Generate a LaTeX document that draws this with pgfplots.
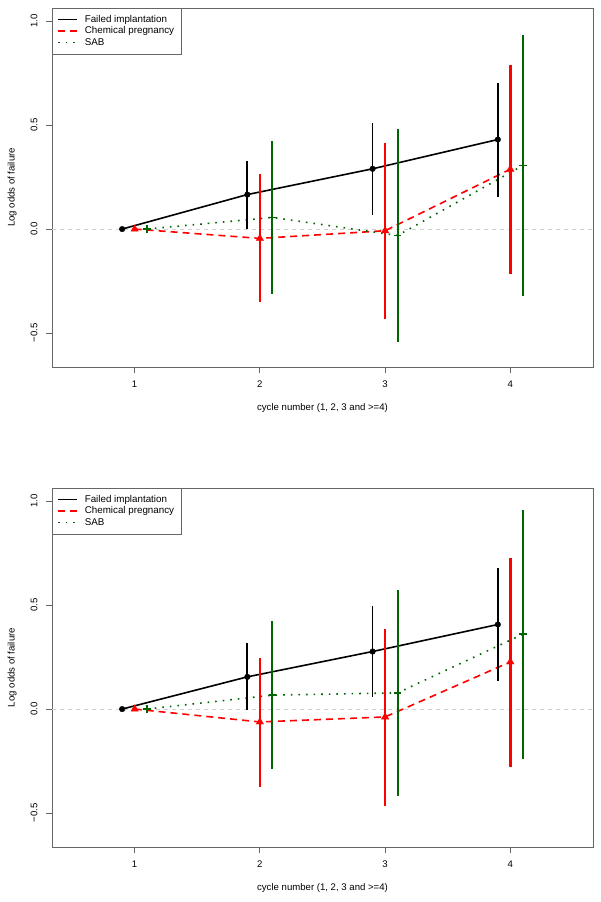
\documentclass[border=0pt]{standalone}
\usepackage{fontspec}
\setmainfont{Liberation Sans}
\usepackage{pgfplots}
\usepackage{pgfplotstable}
\pgfplotsset{compat=1.18}

\definecolor{axisgray}{gray}{0.4}
\definecolor{zerogray}{gray}{0.82}
\definecolor{rgreen}{HTML}{006400}

% x  estimate  lower  upper
\pgfplotstableread{
x   y       lo      hi
0.9 0       0       0
1.9 0.166   0.000   0.327
2.9 0.290   0.069   0.511
3.9 0.431   0.155   0.705
}\topfi
\pgfplotstableread{
x   y       lo      hi
1   0       0       0
2   -0.045  -0.353  0.266
3   -0.008  -0.433  0.416
4   0.288   -0.218  0.788
}\topcp
\pgfplotstableread{
x   y       lo      hi
1.1 0       0       0
2.1 0.056   -0.314  0.423
3.1 -0.031  -0.545  0.482
4.1 0.306   -0.322  0.933
}\topsab
\pgfplotstableread{
x   y       lo      hi
0.9 0       0       0
1.9 0.155   -0.005  0.316
2.9 0.277   0.056   0.497
3.9 0.407   0.133   0.681
}\botfi
\pgfplotstableread{
x   y       lo      hi
1   0       0       0
2   -0.062  -0.373  0.244
3   -0.038  -0.466  0.383
4   0.227   -0.277  0.729
}\botcp
\pgfplotstableread{
x   y       lo      hi
1.1 0       0       0
2.1 0.067   -0.288  0.426
3.1 0.078   -0.417  0.572
4.1 0.360   -0.239  0.960
}\botsab

\pgfplotsset{
  rpanel/.style={
    scale only axis, width=541pt, height=359pt,
    xmin=0.34, xmax=4.66, ymin=-0.664, ymax=1.064,
    axis line style={axisgray, line width=0.8pt},
    tick style={axisgray, line width=0.8pt},
    tick align=outside, tick pos=left, major tick length=6pt,
    xtick={1,2,3,4}, xticklabels={1,2,3,4},
    ytick={-0.5,0,0.5,1}, yticklabels={−0.5,0.0,0.5,1.0},
    xticklabel shift=4pt, yticklabel shift=5pt,
    yticklabel style={rotate=90, anchor=south},
    font=\fontsize{9.6}{11}\selectfont,
    xlabel={cycle number (1, 2, 3 and >=4)},
    ylabel={Log odds of failure},
    xlabel style={at={(axis description cs:0.5,-0.1142)}, anchor=center},
    ylabel style={at={(axis description cs:-0.0739,0.5)}, anchor=center},
    legend style={at={(0,1)}, anchor=north west, draw=axisgray,
      inner xsep=5pt, inner ysep=5pt, row sep=-1pt,
      font=\fontsize{9.8}{11}\selectfont,
      /tikz/every odd column/.append style={column sep=5pt}},
    legend cell align=left,
    legend image code/.code={\draw[#1, line width=1.6pt] (0pt,0pt) -- (19pt,0pt);},
  },
  filine/.style={black, line width=1.6pt},
  cpline/.style={red, line width=1.6pt, dash pattern=on 7pt off 5pt},
  sabline/.style={rgreen, line width=1.6pt, dash pattern=on 1.6pt off 6pt},
  cibar/.style={forget plot, draw=none, mark=none,
    error bars/.cd, y dir=both, y explicit, error mark=none,
    error bar style={#1}},
}

\begin{document}
\begin{tikzpicture}
\path[use as bounding box] (0,0) rectangle (601pt,-902pt);

\begin{axis}[rpanel, at={(52pt,-367pt)}, anchor=south west]
\addplot[forget plot, zerogray, line width=0.6pt, dash pattern=on 4pt off 4pt]
  coordinates {(0.34,0) (4.66,0)};
\addplot[filine] table[x=x, y=y] {\topfi};
\addlegendentry{Failed implantation}
\addplot[cpline] table[x=x, y=y] {\topcp};
\addlegendentry{Chemical pregnancy}
\addplot[sabline] table[x=x, y=y] {\topsab};
\addlegendentry{SAB}
\addplot[cibar={black, line width=1.8pt}] table[x=x, y=y,
  y error plus expr=\thisrow{hi}-\thisrow{y}, y error minus expr=\thisrow{y}-\thisrow{lo}] {\topfi};
\addplot[cibar={red, line width=2.4pt}] table[x=x, y=y,
  y error plus expr=\thisrow{hi}-\thisrow{y}, y error minus expr=\thisrow{y}-\thisrow{lo}] {\topcp};
\addplot[cibar={rgreen, line width=2.0pt}] table[x=x, y=y,
  y error plus expr=\thisrow{hi}-\thisrow{y}, y error minus expr=\thisrow{y}-\thisrow{lo}] {\topsab};
\addplot[forget plot, only marks, mark=*, mark size=2.8pt, black] table[x=x, y=y] {\topfi};
\addplot[forget plot, only marks, mark=triangle*, mark size=4.2pt, red] table[x=x, y=y] {\topcp};
\addplot[forget plot, only marks, mark=+, mark size=3.8pt, rgreen, line width=1.6pt] table[x=x, y=y] {\topsab};
\end{axis}

\begin{axis}[rpanel, at={(52pt,-847pt)}, anchor=south west]
\addplot[forget plot, zerogray, line width=0.6pt, dash pattern=on 4pt off 4pt]
  coordinates {(0.34,0) (4.66,0)};
\addplot[filine] table[x=x, y=y] {\botfi};
\addlegendentry{Failed implantation}
\addplot[cpline] table[x=x, y=y] {\botcp};
\addlegendentry{Chemical pregnancy}
\addplot[sabline] table[x=x, y=y] {\botsab};
\addlegendentry{SAB}
\addplot[cibar={black, line width=1.8pt}] table[x=x, y=y,
  y error plus expr=\thisrow{hi}-\thisrow{y}, y error minus expr=\thisrow{y}-\thisrow{lo}] {\botfi};
\addplot[cibar={red, line width=2.4pt}] table[x=x, y=y,
  y error plus expr=\thisrow{hi}-\thisrow{y}, y error minus expr=\thisrow{y}-\thisrow{lo}] {\botcp};
\addplot[cibar={rgreen, line width=2.0pt}] table[x=x, y=y,
  y error plus expr=\thisrow{hi}-\thisrow{y}, y error minus expr=\thisrow{y}-\thisrow{lo}] {\botsab};
\addplot[forget plot, only marks, mark=*, mark size=2.8pt, black] table[x=x, y=y] {\botfi};
\addplot[forget plot, only marks, mark=triangle*, mark size=4.2pt, red] table[x=x, y=y] {\botcp};
\addplot[forget plot, only marks, mark=+, mark size=3.8pt, rgreen, line width=1.6pt] table[x=x, y=y] {\botsab};
\end{axis}
\end{tikzpicture}
\end{document}
